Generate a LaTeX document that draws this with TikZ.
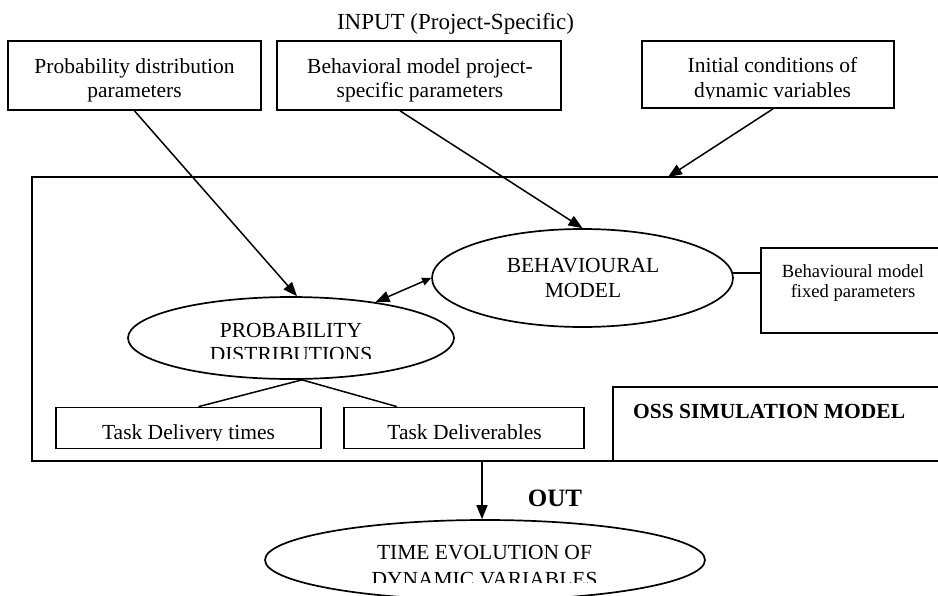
\documentclass[tikz,border=0pt]{standalone}
\usepackage{fontspec}
\setmainfont{Liberation Serif}
\usetikzlibrary{arrows.meta,calc,shapes.geometric}
\begin{document}
\begin{tikzpicture}[x=1pt,y=-1pt,
  box/.style={draw, rectangle, inner sep=0pt, line width=1.7pt},
  oval/.style={draw, ellipse, inner sep=0pt, line width=1.7pt},
  txt/.style={inner sep=0pt, anchor=base, font=\fontsize{21.5}{24}\selectfont},
  smalltxt/.style={inner sep=0pt, anchor=base, font=\fontsize{18.6}{20}\selectfont},
  boldtxt/.style={inner sep=0pt, anchor=base west, font=\fontsize{21.5}{24}\selectfont\bfseries},
  arr/.style={-{Triangle[length=14pt,width=11pt]}, line width=1.5pt},
  link/.style={line width=1.5pt}]
\useasboundingbox (0,0) rectangle (938,595);
\clip (0,0) rectangle (938,595);

% title
\node[txt, font=\fontsize{23}{26}\selectfont] (title) at (455.5,29) {INPUT (Project-Specific)};

% input boxes
\node[box, minimum width=253pt, minimum height=69pt] (b1) at (134.5,75.5) {};
\node[box, minimum width=284pt, minimum height=69pt] (b2) at (419,75.5) {};
\node[box, minimum width=252pt, minimum height=67pt] (b3) at (768,74.5) {};
\node[txt] (b1a) at (134.5,73) {Probability distribution};
\node[txt] (b1b) at (134.5,97) {parameters};
\node[txt] (b2a) at (420,73) {Behavioral model project-};
\node[txt] (b2b) at (420,97) {specific parameters};
\node[txt] (b3a) at (772.5,72) {Initial conditions of};
\begin{scope}
\clip (640,80) rectangle (900,98.5);
\node[txt] (b3b) at (772.5,97) {dynamic variables};
\end{scope}

% outer simulation model box
\node[box, minimum width=918pt, minimum height=284pt] (sim) at (491,319) {};
\node[box, minimum width=337pt, minimum height=74pt] (ossb) at (781.5,424) {};
\node[boldtxt] (ossl) at (633,418) {OSS SIMULATION MODEL};

% behavioural model
\node[oval, minimum width=301pt, minimum height=98pt] (bm) at (582.5,278) {};
\node[txt] (bma) at (583,272) {BEHAVIOURAL};
\node[txt] (bmb) at (583,297) {MODEL};

% fixed parameters
\node[box, minimum width=189pt, minimum height=85pt] (fp) at (855.5,290.5) {};
\node[smalltxt] (fpa) at (853,277) {Behavioural model};
\node[smalltxt] (fpb) at (853,297) {fixed parameters};

% probability distributions
\node[oval, minimum width=326pt, minimum height=82pt] (pd) at (291,338) {};
\node[txt] (pda) at (291,337) {PROBABILITY};
\begin{scope}
\clip (120,340) rectangle (460,358);
\node[txt] (pdb) at (291,361) {DISTRIBUTIONS};
\end{scope}

% task boxes
\node[box, minimum width=265pt, minimum height=41pt] (t1) at (188.5,428) {};
\node[box, minimum width=240pt, minimum height=41pt] (t2) at (464,428) {};
\begin{scope}
\clip (50,412) rectangle (590,440);
\node[txt] (t1l) at (188.5,439) {Task Delivery times};
\node[txt] (t2l) at (464.5,439) {Task Deliverables};
\end{scope}

% output
\node[oval, minimum width=440pt, minimum height=80pt] (te) at (485,560) {};
\node[txt] (tea) at (484.5,559) {TIME EVOLUTION OF};
\begin{scope}
\clip (260,565) rectangle (710,582);
\node[txt] (teb) at (484.5,586) {DYNAMIC VARIABLES};
\end{scope}
\node[inner sep=0pt, anchor=base, font=\fontsize{25}{28}\selectfont\bfseries] (outl) at (555,506) {OUT};

% coordinates on the outer box
\coordinate (simin) at (668,177);
\coordinate (simout) at (482,461);

% connectors
\draw[arr] (b1.south) -- ([xshift=6pt]pd.north);
\draw[arr] ([xshift=-19pt]b2.south) -- (bm.north);
\draw[arr] ([xshift=5pt]b3.south) -- (simin);
\draw[{Triangle[length=14pt,width=11pt]}-{Triangle[length=9pt,width=8pt]}, line width=1.5pt] (pd.23) -- (bm.west);
\draw[link] (bm.2) -- (bm.2 -| fp.west);
\draw[link] ([xshift=11pt]pd.south) -- ([xshift=10pt]t1.north);
\draw[link] ([xshift=11pt]pd.south) -- ([xshift=-67pt]t2.north);
\draw[arr] (simout) -- (simout |- te.north);
\end{tikzpicture}
\end{document}
